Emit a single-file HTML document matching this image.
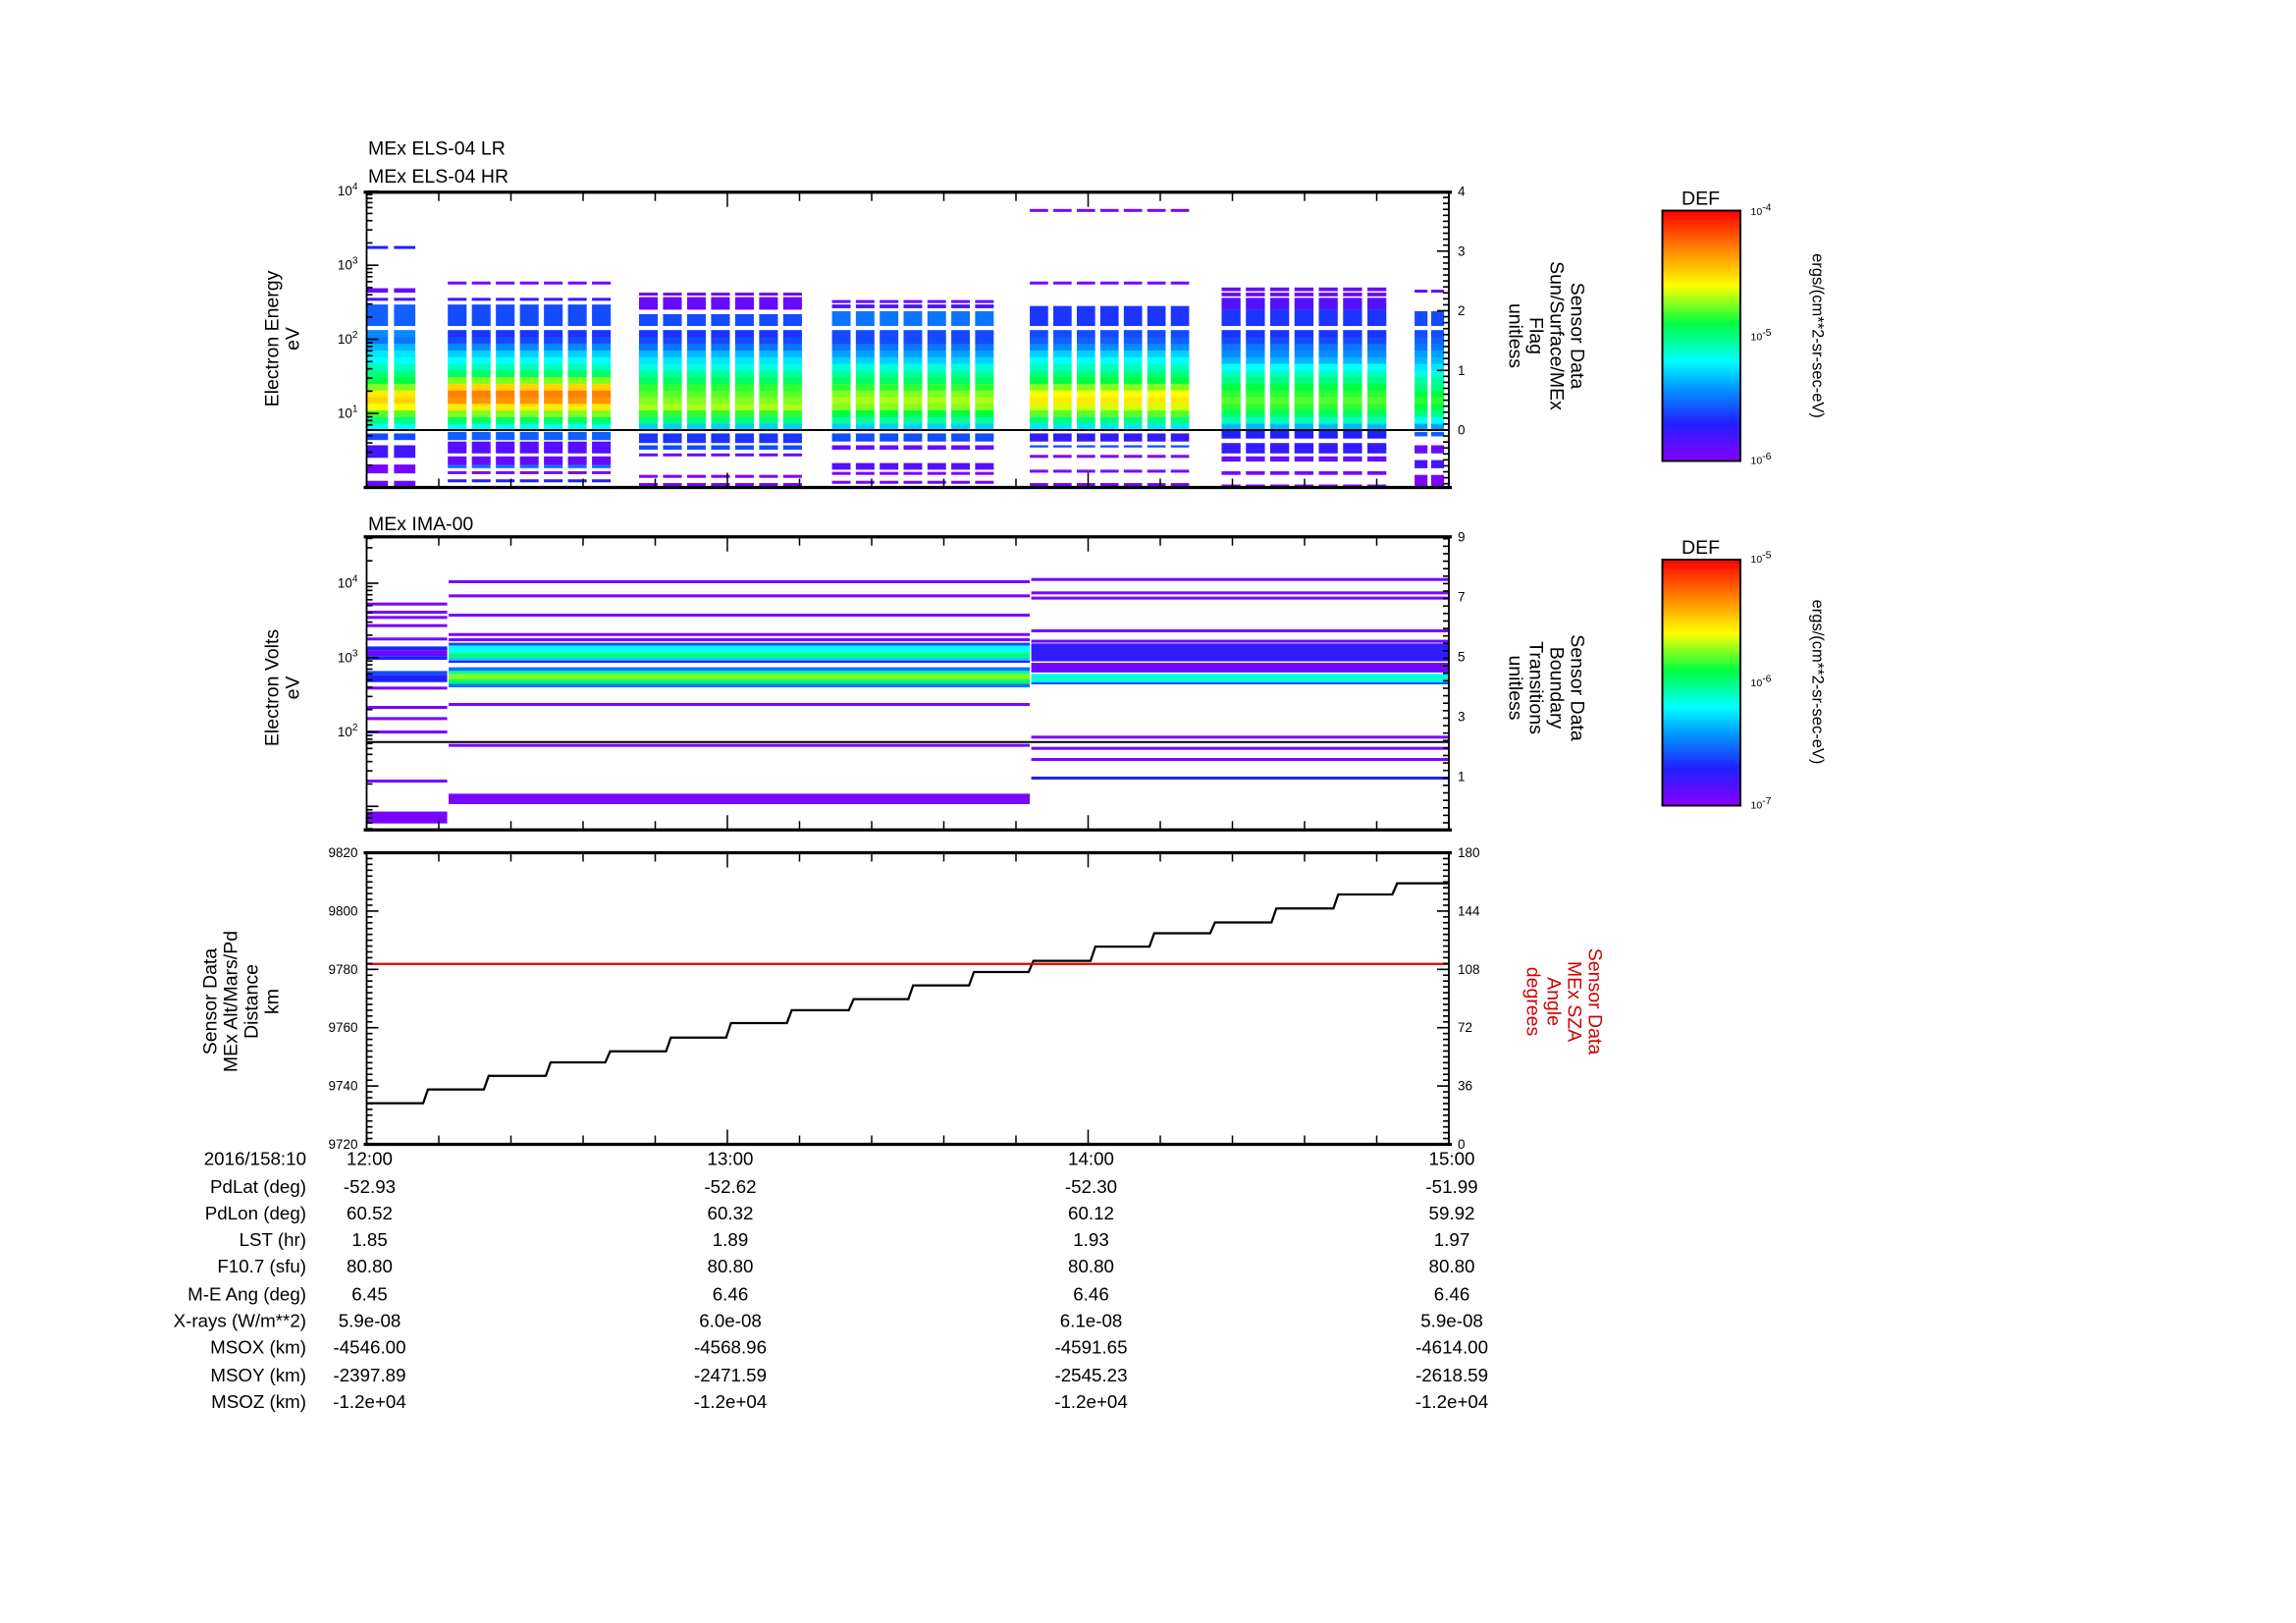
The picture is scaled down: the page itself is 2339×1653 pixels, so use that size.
<!DOCTYPE html>
<html><head><meta charset="utf-8"><title>MEx ELS / IMA summary</title>
<style>
html,body{margin:0;padding:0;background:#fff;}
svg{display:block;font-family:"Liberation Sans",sans-serif;}
.t{font-size:13px;fill:#000;}
.s{font-size:9px;fill:#000;}
</style></head>
<body>
<svg id="chart" xmlns="http://www.w3.org/2000/svg" width="2339" height="1653" viewBox="0 0 1559.33 1102">
<defs>
<linearGradient id="cmap" x1="0" y1="1" x2="0" y2="0">
<stop offset="0" stop-color="#8a00ff"/><stop offset="0.15" stop-color="#2020ff"/><stop offset="0.3" stop-color="#00a0ff"/><stop offset="0.4" stop-color="#00ffff"/><stop offset="0.55" stop-color="#00ff40"/><stop offset="0.7" stop-color="#ffff00"/><stop offset="0.85" stop-color="#ff8000"/><stop offset="1" stop-color="#ff0000"/>
</linearGradient>
</defs>
<g id="marks"></g>
<g id="axes"></g>
<text class="t" x="250" y="105">MEx ELS-04 LR</text>
<text class="t" x="250" y="124">MEx ELS-04 HR</text>
<text class="t" text-anchor="middle" transform="translate(189,230) rotate(-90)">Electron Energy</text>
<text class="t" text-anchor="middle" transform="translate(203,230) rotate(-90)">eV</text>
<g class="t" text-anchor="middle">
<text transform="translate(1067,228) rotate(90)">Sensor Data</text>
<text transform="translate(1053,228) rotate(90)">Sun/Surface/MEx</text>
<text transform="translate(1039,228) rotate(90)">Flag</text>
<text transform="translate(1025,228) rotate(90)">unitless</text>
</g>
<text class="t" x="250" y="360">MEx IMA-00</text>
<text class="t" text-anchor="middle" transform="translate(189,467) rotate(-90)">Electron Volts</text>
<text class="t" text-anchor="middle" transform="translate(203,467) rotate(-90)">eV</text>
<g class="t" text-anchor="middle">
<text transform="translate(1067,467) rotate(90)">Sensor Data</text>
<text transform="translate(1053,467) rotate(90)">Boundary</text>
<text transform="translate(1039,467) rotate(90)">Transitions</text>
<text transform="translate(1025,467) rotate(90)">unitless</text>
</g>
<g class="t" text-anchor="middle">
<text transform="translate(147,680) rotate(-90)">Sensor Data</text>
<text transform="translate(161,680) rotate(-90)">MEx Alt/Mars/Pd</text>
<text transform="translate(175,680) rotate(-90)">Distance</text>
<text transform="translate(189,680) rotate(-90)">km</text>
</g>
<g class="t" text-anchor="middle">
<text transform="translate(1079,680) rotate(90)" fill="#d00000">Sensor Data</text>
<text transform="translate(1065,680) rotate(90)" fill="#d00000">MEx SZA</text>
<text transform="translate(1051,680) rotate(90)" fill="#d00000">Angle</text>
<text transform="translate(1037,680) rotate(90)" fill="#d00000">degrees</text>
</g>
<g>
<text class="t" x="1155" y="139" text-anchor="middle">DEF</text>
<rect x="1129" y="143" width="53" height="170" fill="url(#cmap)" stroke="#000" stroke-width="1.3"/>
<text class="s" x="1189" y="146" style="font-size:7px">10<tspan dy="-3">-4</tspan></text>
<text class="s" x="1189" y="231" style="font-size:7px">10<tspan dy="-3">-5</tspan></text>
<text class="s" x="1189" y="315" style="font-size:7px">10<tspan dy="-3">-6</tspan></text>
<text class="t" text-anchor="middle" transform="translate(1231,228) rotate(90)" style="font-size:11px">ergs/(cm**2-sr-sec-eV)</text>
</g>
<g>
<text class="t" x="1155" y="376" text-anchor="middle">DEF</text>
<rect x="1129" y="380" width="53" height="167" fill="url(#cmap)" stroke="#000" stroke-width="1.3"/>
<text class="s" x="1189" y="382" style="font-size:7px">10<tspan dy="-3">-5</tspan></text>
<text class="s" x="1189" y="466" style="font-size:7px">10<tspan dy="-3">-6</tspan></text>
<text class="s" x="1189" y="549" style="font-size:7px">10<tspan dy="-3">-7</tspan></text>
<text class="t" text-anchor="middle" transform="translate(1231,463) rotate(90)" style="font-size:11px">ergs/(cm**2-sr-sec-eV)</text>
</g>
<g id="table"></g>
</svg>
<script>
// ---------- Panel 1: ELS spectrogram data (times in minutes after 12:00, energies log10 eV, DEF log10) ----------
const elsGroupStart = [0, 13.5, 45.3, 77.4, 110.3, 142.2, 174.3];
const elsGroupEnd = [8.1, 40.6, 72.4, 104.3, 136.8, 169.6, 179.2];
const elsGroupCols = [2, 7, 7, 7, 7, 7, 2];
const elsLrBinCenters = [0.82,0.91,1.0,1.09,1.18,1.27,1.36,1.45,1.54,1.63,1.72,1.81,1.90,1.99,2.08];
const elsLrDef1 = [-5.2,-5.0,-4.8,-4.6,-4.5,-4.55,-4.75,-4.9,-5.0,-5.1,-5.2,-5.25,-5.35,-5.5,-5.45];
const elsLrDef2 = [-5.2,-4.95,-4.75,-4.55,-4.35,-4.3,-4.5,-4.75,-4.95,-5.1,-5.2,-5.3,-5.45,-5.6,-5.65];
const elsLrDef3 = [-5.3,-5.0,-4.85,-4.7,-4.75,-4.8,-4.85,-4.95,-5.05,-5.15,-5.25,-5.35,-5.5,-5.6,-5.65];
const elsLrDef4 = [-5.3,-5.05,-4.9,-4.75,-4.7,-4.75,-4.85,-4.95,-5.05,-5.15,-5.3,-5.4,-5.5,-5.6,-5.6];
const elsLrDef5 = [-5.25,-5.0,-4.8,-4.65,-4.55,-4.6,-4.75,-4.9,-5.0,-5.1,-5.2,-5.3,-5.45,-5.55,-5.6];
const elsLrDef6 = [-5.35,-5.1,-4.95,-4.85,-4.8,-4.85,-4.9,-5.0,-5.1,-5.2,-5.35,-5.45,-5.5,-5.6,-5.65];
const elsLrDef7 = [-5.4,-5.2,-5.0,-4.9,-4.85,-4.9,-5.0,-5.05,-5.15,-5.25,-5.35,-5.4,-5.5,-5.55,-5.6];
const elsLowBands1 = [[0.64,0.73,-5.6],[0.40,0.57,-5.8],[0.19,0.31,-5.95],[0.02,0.09,-5.9]];
const elsLowBands2 = [[0.64,0.75,-5.55],[0.46,0.62,-5.85],[0.30,0.42,-5.9],[0.26,0.30,-5.5],[0.18,0.22,-5.95],[0.07,0.11,-5.7]];
const elsLowBands3 = [[0.60,0.73,-5.65],[0.51,0.57,-5.6],[0.42,0.46,-5.9],[0.13,0.17,-5.95],[0.02,0.06,-5.95]];
const elsLowBands4 = [[0.62,0.73,-5.6],[0.51,0.57,-5.9],[0.24,0.33,-5.85],[0.17,0.21,-5.95],[0.05,0.09,-5.95]];
const elsLowBands5 = [[0.62,0.73,-5.75],[0.54,0.57,-5.6],[0.40,0.44,-5.95],[0.20,0.24,-5.95],[0.02,0.06,-5.95]];
const elsLowBands6 = [[0.66,0.77,-5.7],[0.46,0.60,-5.75],[0.35,0.42,-5.9],[0.17,0.22,-5.95],[0.02,0.04,-5.95]];
const elsLowBands7 = [[0.69,0.75,-5.55],[0.46,0.57,-5.9],[0.26,0.37,-5.8],[0.02,0.17,-5.95]];
const elsHrBands1 = [[2.18,2.47,-5.55],[2.52,2.56,-5.8],[2.63,2.69,-5.9],[3.22,3.26,-5.7]];
const elsHrBands2 = [[2.18,2.47,-5.6],[2.52,2.56,-5.8],[2.74,2.78,-5.95]];
const elsHrBands3 = [[2.18,2.34,-5.6],[2.40,2.57,-5.9],[2.59,2.63,-5.9]];
const elsHrBands4 = [[2.18,2.38,-5.5],[2.42,2.47,-5.8],[2.49,2.53,-5.9]];
const elsHrBands5 = [[2.18,2.45,-5.65],[2.74,2.78,-5.95],[3.72,3.76,-5.95]];
const elsHrBands6 = [[2.18,2.40,-5.65],[2.40,2.56,-5.85],[2.58,2.63,-5.9],[2.65,2.70,-5.9]];
const elsHrBands7 = [[2.18,2.38,-5.6],[2.63,2.67,-5.9]];
const elsFlagValue = 0;
const elsYTickLabels = ['10^1','10^2','10^3','10^4'];
const elsRightTicks = [0,1,2,3,4];

// ---------- Panel 2: IMA data ----------
const imaSegStart = [0, 13.4, 110.3];
const imaSegEnd = [13.4, 110.3, 180];
const imaBandsA = [[3.70,3.74,-6.95],[3.59,3.63,-6.95],[3.52,3.56,-6.95],[3.41,3.45,-6.95],[3.23,3.27,-6.95],[3.10,3.15,-6.7],[3.02,3.10,-6.9],[2.97,3.02,-6.7],[2.76,2.82,-6.6],[2.67,2.76,-6.7],[2.57,2.61,-6.95],[2.31,2.35,-6.95],[2.16,2.20,-6.95],[1.98,2.02,-6.95],[1.32,1.36,-6.95],[0.77,0.93,-6.95]];
const imaBandsB = [[4.00,4.04,-6.95],[3.81,3.85,-6.95],[3.55,3.59,-6.95],[3.29,3.33,-6.95],[3.22,3.26,-6.95],[3.16,3.20,-6.6],[3.06,3.16,-6.2],[3.00,3.06,-5.95],[2.96,3.00,-6.3],[2.93,2.96,-6.75],[2.82,2.87,-6.5],[2.78,2.82,-6.05],[2.71,2.78,-5.75],[2.65,2.71,-5.95],[2.60,2.65,-6.5],[2.35,2.39,-6.95],[1.80,1.84,-6.95],[1.03,1.17,-6.95]];
const imaBandsC = [[4.03,4.07,-6.95],[3.85,3.89,-6.95],[3.78,3.82,-6.95],[3.34,3.38,-6.95],[3.20,3.24,-6.95],[2.95,3.19,-6.75],[2.80,2.93,-6.92],[2.67,2.78,-6.15],[2.64,2.67,-6.6],[1.91,1.95,-6.95],[1.76,1.80,-6.95],[1.61,1.65,-6.95],[1.36,1.40,-6.7]];
const imaFlagValue = 2.15;
const imaYTickLabels = ['10^2','10^3','10^4'];
const imaRightTicks = [1,3,5,7,9];

// ---------- Panel 3: altitude and SZA ----------
const altTimes = [0,9.4,19.5,29.8,39.7,49.8,59.8,69.9,80.2,90.1,100.2,110.1,120.4,130.2,140.3,150.5,160.8,170.6];
const altValues = [9734.1,9738.8,9743.5,9748.1,9751.9,9756.6,9761.6,9766.0,9769.8,9774.5,9779.1,9782.9,9787.8,9792.4,9796.1,9800.9,9805.7,9809.5];
const szaTimes = [0,180];
const szaValues = [111.4,111.4];
const altTickLabels = [9720,9740,9760,9780,9800,9820];
const szaTickLabels = [0,36,72,108,144,180];

// ---------- Ephemeris table ----------
const tableRowLabels = ['2016/158:10','PdLat (deg)','PdLon (deg)','LST (hr)','F10.7 (sfu)','M-E Ang (deg)','X-rays (W/m**2)','MSOX (km)','MSOY (km)','MSOZ (km)'];
const tableCol1200 = ['12:00','-52.93','60.52','1.85','80.80','6.45','5.9e-08','-4546.00','-2397.89','-1.2e+04'];
const tableCol1300 = ['13:00','-52.62','60.32','1.89','80.80','6.46','6.0e-08','-4568.96','-2471.59','-1.2e+04'];
const tableCol1400 = ['14:00','-52.30','60.12','1.93','80.80','6.46','6.1e-08','-4591.65','-2545.23','-1.2e+04'];
const tableCol1500 = ['15:00','-51.99','59.92','1.97','80.80','6.46','5.9e-08','-4614.00','-2618.59','-1.2e+04'];
const tableColMinutes = [0,60,120,180];

// ---------- rendering ----------
const NS='http://www.w3.org/2000/svg';
const marks=document.getElementById('marks');
const axes=document.getElementById('axes');
const tbl=document.getElementById('table');
function mk(tag,attrs,parent){const e=document.createElementNS(NS,tag);for(const k in attrs)e.setAttribute(k,attrs[k]);parent.appendChild(e);return e;}
const X0=249,X1=984;
function xT(m){return X0+m/180*(X1-X0);}
const P1={top:130.5,bot:331};
const P2={top:364.5,bot:563.5};
const P3={top:579,bot:777};
function yE1(l){return 331-50.3*l;}
function yF1(v){return 292-40.5*v;}
function yE2(l){return 497-50.5*(l-2);}
function yF2(v){return 547.5-20.3*v;}
function yAlt(v){return 777-(v-9720)*1.98;}
function ySza(d){return 777-d/180*198;}
const stops=[[0,[138,0,255]],[0.15,[32,32,255]],[0.3,[0,160,255]],[0.4,[0,255,255]],[0.55,[0,255,64]],[0.7,[255,255,0]],[0.85,[255,128,0]],[1,[255,0,0]]];
function cmap(c){c=Math.max(0,Math.min(1,c));for(let i=1;i<stops.length;i++){if(c<=stops[i][0]){const a=stops[i-1],b=stops[i];const f=(c-a[0])/(b[0]-a[0]);const r=a[1].map((v,j)=>Math.round(v+(b[1][j]-v)*f));return 'rgb('+r.join(',')+')';}}return 'rgb(255,0,0)';}

// Panel 1
const lrDefs=[elsLrDef1,elsLrDef2,elsLrDef3,elsLrDef4,elsLrDef5,elsLrDef6,elsLrDef7];
const lowB=[elsLowBands1,elsLowBands2,elsLowBands3,elsLowBands4,elsLowBands5,elsLowBands6,elsLowBands7];
const hrB=[elsHrBands1,elsHrBands2,elsHrBands3,elsHrBands4,elsHrBands5,elsHrBands6,elsHrBands7];
const binHalf=0.045;
for(let g=0;g<elsGroupStart.length;g++){
  const n=elsGroupCols[g];const pitch=(elsGroupEnd[g]-elsGroupStart[g])/(n-0.22);
  for(let c=0;c<n;c++){
    const t0=elsGroupStart[g]+c*pitch,t1=t0+pitch*0.78;
    const xa=xT(t0),w=xT(t1)-xa;
    for(let b=0;b<elsLrBinCenters.length;b++){
      const lc=elsLrBinCenters[b];
      const r=mk('rect',{x:xa,y:yE1(lc+binHalf),width:w,height:yE1(lc-binHalf)-yE1(lc+binHalf)+0.3,fill:cmap((lrDefs[g][b]+6)/2)},marks);
      
      
    }
    for(const bd of lowB[g].concat(hrB[g])){
      const r=mk('rect',{x:xa,y:yE1(bd[1]),width:w,height:yE1(bd[0])-yE1(bd[1]),fill:cmap((bd[2]+6)/2)},marks);
      
      
    }
  }
}
const f1=mk('line',{x1:X0,x2:X1,y1:yF1(elsFlagValue),y2:yF1(elsFlagValue),stroke:'#000','stroke-width':1.3},marks);



// Panel 2
const segB=[imaBandsA,imaBandsB,imaBandsC];
for(let s=0;s<imaSegStart.length;s++){
  const xa=xT(imaSegStart[s])+(s>0?1:0),xb=xT(imaSegEnd[s]);
  for(const bd of segB[s]){
    const r=mk('rect',{x:xa,y:yE2(bd[1]),width:xb-xa,height:yE2(bd[0])-yE2(bd[1]),fill:cmap((bd[2]+7)/2)},marks);
    
    
  }
}
const f2=mk('line',{x1:X0,x2:X1,y1:yF2(imaFlagValue),y2:yF2(imaFlagValue),stroke:'#000','stroke-width':1.3},marks);



// Panel 3
let d='';
for(let i=0;i<altTimes.length;i++){
  const tEnd=i+1<altTimes.length?altTimes[i+1]:180;
  const tStart=i===0?altTimes[i]:altTimes[i]+0.8;
  d+=(i===0?'M':'L')+xT(tStart)+','+yAlt(altValues[i])+' L'+xT(tEnd)+','+yAlt(altValues[i]);
}
const altLine=mk('path',{d:d,fill:'none',stroke:'#000','stroke-width':1.5},marks);


const szaLine=mk('line',{x1:xT(szaTimes[0]),x2:xT(szaTimes[1]),y1:ySza(szaValues[0]),y2:ySza(szaValues[1]),stroke:'#e00000','stroke-width':1.5},marks);



// Axes frames and ticks
function frame(P,name){
  const r=mk('rect',{x:X0,y:P.top,width:X1-X0,height:P.bot-P.top,fill:'none',stroke:'#000','stroke-width':1.2},axes);
  
  
  mk('line',{x1:X0-2,x2:X1+2,y1:P.top,y2:P.top,stroke:'#000','stroke-width':2.2},axes);
  mk('line',{x1:X0-2,x2:X1+2,y1:P.bot,y2:P.bot,stroke:'#000','stroke-width':2.2},axes);
  for(let m=0;m<=180;m+=12){
    const L=(m%60===0)?10:6;
    mk('line',{x1:xT(m),x2:xT(m),y1:P.top,y2:P.top+L,stroke:'#000','stroke-width':1},axes);
    mk('line',{x1:xT(m),x2:xT(m),y1:P.bot,y2:P.bot-L,stroke:'#000','stroke-width':1},axes);
  }
}
function tickL(y,L){mk('line',{x1:X0,x2:X0+L,y1:y,y2:y,stroke:'#000','stroke-width':1.1},axes);}
function tickR(y,L){mk('line',{x1:X1,x2:X1-L,y1:y,y2:y,stroke:'#000','stroke-width':1.1},axes);}
function lbl(x,y,txt,anchor,size,color){
  const t=mk('text',{x:x,y:y,'text-anchor':anchor,'font-size':size,fill:color||'#000'},axes);
  if(txt.indexOf('^')>=0){const p=txt.split('^');t.textContent=p[0];const s=mk('tspan',{dy:-4,'font-size':size*0.75},t);s.textContent=p[1];}
  else t.textContent=txt;
  return t;
}
frame(P1,'els-axes-frame');
for(let dd=0;dd<4;dd++)for(let k=1;k<10;k++){const y=yE1(dd+Math.log10(k));tickL(y,k===1?8:4);}
tickL(yE1(4),8);
elsYTickLabels.forEach(s=>{const e=+s.split('^')[1];const t=lbl(X0-6,yE1(e)+3,s,'end',9);});
for(let v=-0.9;v<=4.001;v+=0.1){const y=yF1(v);if(y>P1.bot||y<P1.top)continue;const maj=Math.abs(v-Math.round(v))<0.01;tickR(y,maj?8:4);}
elsRightTicks.forEach(v=>{const t=lbl(X1+6,yF1(v)+3,String(v),'start',9);});
frame(P2,'ima-axes-frame');
for(let dd=0;dd<5;dd++)for(let k=1;k<10;k++){const y=yE2(dd+Math.log10(k));if(y>P2.bot||y<P2.top)continue;tickL(y,k===1?8:4);}
imaYTickLabels.forEach(s=>{const e=+s.split('^')[1];const t=lbl(X0-6,yE2(e)+3,s,'end',9);});
for(let v=-0.8;v<=9.001;v+=0.25){const y=yF2(v);if(y>P2.bot||y<P2.top)continue;const maj=Math.abs(v-Math.round(v))<0.01&&Math.round(v)%2===1;tickR(y,maj?8:4);}
imaRightTicks.forEach(v=>{const t=lbl(X1+6,yF2(v)+3,String(v),'start',9);});
frame(P3,'alt-axes-frame');
for(let v=9720;v<=9820;v+=2){tickL(yAlt(v),(v%20===0)?8:4);}
for(let v=0;v<=180;v+=3.6){tickR(ySza(v),(Math.abs(v/36-Math.round(v/36))<0.01)?8:4);}
altTickLabels.forEach(v=>{const t=lbl(X0-6,yAlt(v)+3,String(v),'end',9);});
szaTickLabels.forEach(v=>{const t=lbl(X1+6,ySza(v)+3,String(v),'start',9);});

const rowY=[791,810,828,846,864,883,901,919,938,956];
const cols=[tableCol1200,tableCol1300,tableCol1400,tableCol1500];
tableRowLabels.forEach((s,i)=>{
  const t=mk('text',{x:208,y:rowY[i],'text-anchor':'end','font-size':12.5,fill:'#000'},tbl);t.textContent=s;
  
  
  cols.forEach((col,j)=>{
    const c=mk('text',{x:xT(tableColMinutes[j])+2,y:rowY[i],'text-anchor':'middle','font-size':12.5,fill:'#000'},tbl);c.textContent=col[i];
    
    
  });
});
</script>
</body></html>
